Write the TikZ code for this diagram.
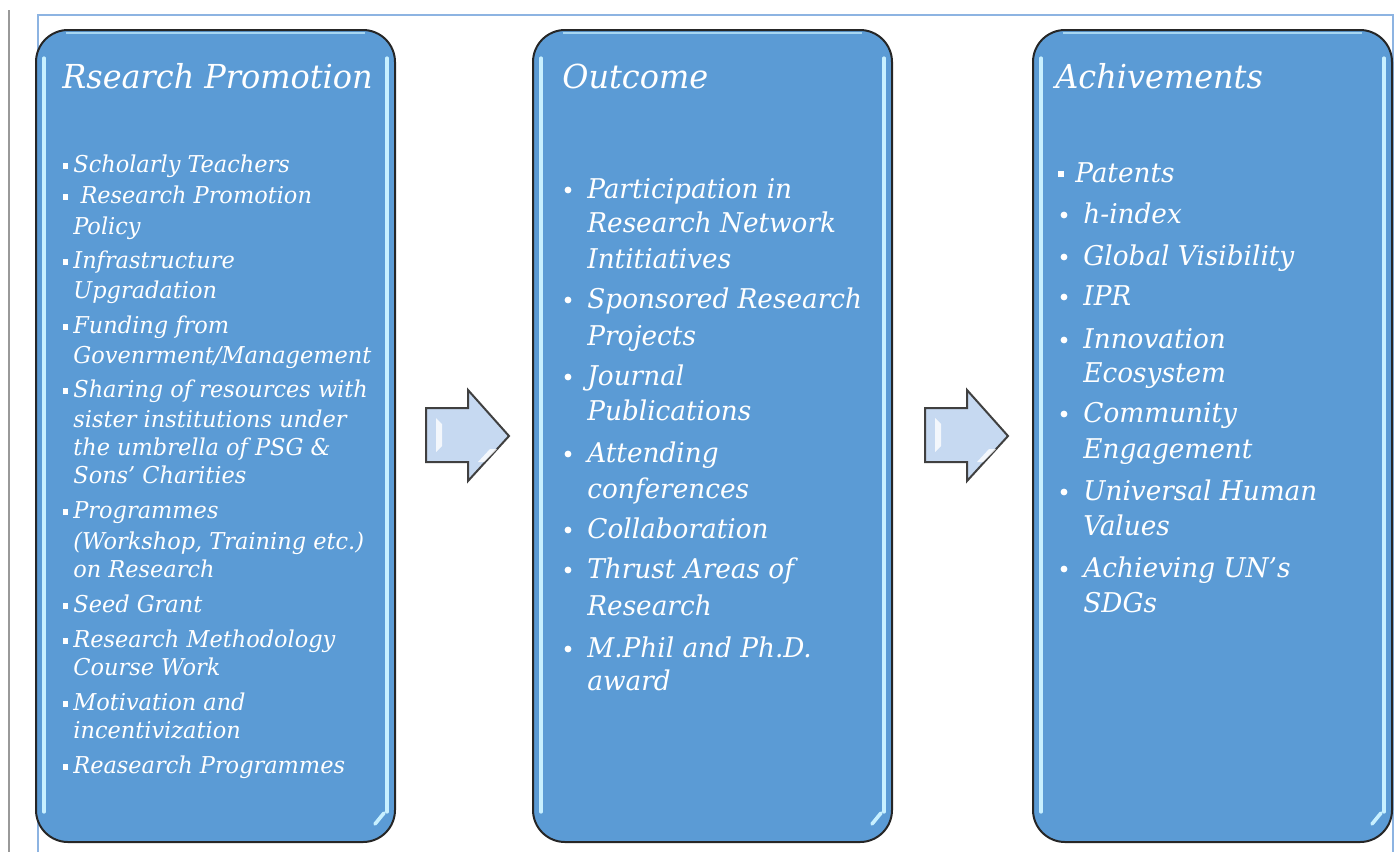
\documentclass[tikz,border=0pt]{standalone}
\usepackage{fontspec}
\setmainfont[FakeStretch=1.075]{DejaVu Serif Condensed}
\definecolor{boxfill}{RGB}{91,155,213}
\definecolor{frameblue}{RGB}{141,180,226}
\definecolor{arrowfill}{RGB}{198,217,241}
\definecolor{glint}{RGB}{200,240,255}
\tikzset{
  panel/.style={rectangle, rounded corners=16pt, fill=boxfill, draw=black!85, line width=1pt, inner sep=0pt, minimum width=179.5pt, minimum height=406pt},
  ttl/.style={anchor=base west, inner sep=0pt, text=white, font=\itshape\fontsize{16.5}{18}\selectfont},
  ta/.style={anchor=base west, inner sep=0pt, text=white, font=\itshape\fontsize{11.6}{13}\selectfont},
  tb/.style={anchor=base west, inner sep=0pt, text=white, font=\itshape\fontsize{13.6}{15}\selectfont},
  sq/.style={rectangle, fill=white, inner sep=0pt, minimum size=2.6pt},
  dot/.style={circle, fill=white, inner sep=0pt, minimum size=3.4pt},
  shine/.style={draw=glint, line width=1.6pt, line cap=round},
  arrowshape/.style={fill=arrowfill, draw=black!75, line width=1pt, line join=miter},
}
\begin{document}
\begin{tikzpicture}[x=0.5pt,y=-0.5pt]
\useasboundingbox (0,0) rectangle (1397,852);
% outer lines
\draw[draw=black!40, line width=0.6pt] (9,10) -- (9,852);
\draw[draw=frameblue, line width=0.7pt] (38,852) -- (38,15) -- (1393,15) -- (1393,852);
% panels
\node[panel] (p1) at (215.5,436) {};
\node[panel] (p2) at (712.5,436) {};
\node[panel] (p3) at (1212.5,436) {};
\foreach \L/\R in {36/395, 533/892, 1033/1392}{
  \draw[shine] (\L+8,58) -- (\L+8,812);
  \draw[shine] (\R-8,58) -- (\R-8,812);
  \draw[draw=glint, line width=0.8pt, opacity=0.7] (\L+30,33) -- (\R-30,33);
  \draw[draw=glint, line width=1.8pt, line cap=round] (\R-20,824) -- (\R-11,813);
}
% arrows
\foreach \dx in {0, 499}{
  \draw[arrowshape] (426+\dx,408) -- (468+\dx,408) -- (468+\dx,390) -- (509+\dx,436) -- (468+\dx,481) -- (468+\dx,462) -- (426+\dx,462) -- cycle;
  \fill[white, opacity=0.8] (436+\dx,418) -- (442+\dx,424) -- (442+\dx,446) -- (436+\dx,452) -- cycle;
  \fill[white, opacity=0.8] (484+\dx,462) -- (497+\dx,449) -- (490+\dx,449) -- (478+\dx,462) -- cycle;
}
% titles
\node[ttl] (t1) at (62,88) {Rsearch Promotion};
\node[ttl] (t2) at (562,88) {Outcome};
\node[ttl] (t3) at (1055,88) {Achivements};
% panel 1 items
\foreach \y/\txt/\b in {
 172/{Scholarly Teachers}/1,
 203/{\ Research Promotion}/1,
 234/{Policy}/0,
 268/{Infrastructure}/1,
 298/{Upgradation}/0,
 333/{Funding from}/1,
 363/{Govenrment/Management}/0,
 397/{Sharing of resources with}/1,
 427/{sister institutions under}/0,
 455/{the umbrella of PSG \&}/0,
 483/{Sons' Charities}/0,
 518/{Programmes}/1,
 549/{(Workshop, Training etc.)}/0,
 577/{on Research}/0,
 612/{Seed Grant}/1,
 647/{Research Methodology}/1,
 675/{Course Work}/0,
 710/{Motivation and}/1,
 738/{incentivization}/0,
 773/{Reasearch Programmes}/1}{
  \node[ta] (l1-\y) at (73,\y) {\txt};
  \ifnum\b=1 \node[sq] (s1-\y) at (65.5,\y-6) {};\fi
}
% panel 2 items
\foreach \y/\txt/\b in {
 198/{Participation in}/1,
 232/{Research Network}/0,
 268/{Intitiatives}/0,
 308/{Sponsored Research}/1,
 345/{Projects}/0,
 385/{Journal}/1,
 420/{Publications}/0,
 462/{Attending}/1,
 498/{conferences}/0,
 538/{Collaboration}/1,
 578/{Thrust Areas of}/1,
 615/{Research}/0,
 657/{M.Phil and Ph.D.}/1,
 690/{award}/0}{
  \node[tb] (l2-\y) at (587,\y) {\txt};
  \ifnum\b=1 \node[dot] (d2-\y) at (568,\y-8) {};\fi
}
% panel 3 items
\node[tb] (l3-p) at (1075,182) {Patents};
\node[sq] (s3-p) at (1061,174) {};
\foreach \y/\txt/\b in {
 223/{h-index}/1,
 265/{Global Visibility}/1,
 305/{IPR}/1,
 348/{Innovation}/1,
 382/{Ecosystem}/0,
 422/{Community}/1,
 458/{Engagement}/0,
 500/{Universal Human}/1,
 535/{Values}/0,
 577/{Achieving UN's}/1,
 612/{SDGs}/0}{
  \node[tb] (l3-\y) at (1083,\y) {\txt};
  \ifnum\b=1 \node[dot] (d3-\y) at (1064,\y-8) {};\fi
}
\end{tikzpicture}
\end{document}
